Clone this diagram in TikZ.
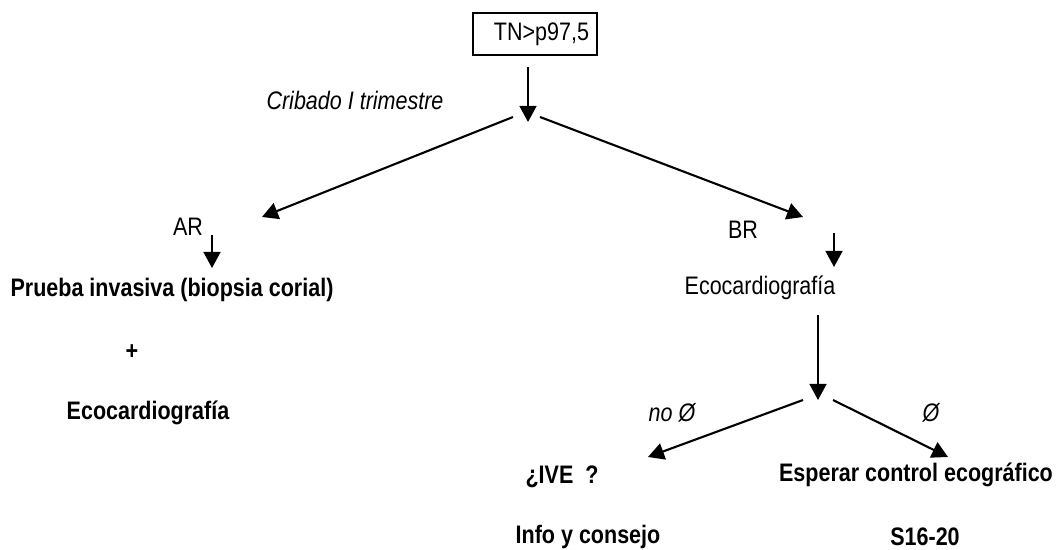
\documentclass[tikz,border=0pt]{standalone}
\usepackage{fontspec}
\setmainfont[FakeStretch=0.85]{Liberation Sans}
\usepackage{tikz}
\usetikzlibrary{arrows.meta}

\tikzset{
	texto/.style={inner sep=1pt,font=\fontsize{18pt}{21pt}\selectfont},
	negrita/.style={texto,font=\fontsize{18pt}{21pt}\selectfont\bfseries},
	cursiva/.style={texto,font=\fontsize{18pt}{21pt}\selectfont\itshape},
	flecha/.style={-{Triangle[length=0.4cm,width=0.42cm]},line width=1.5pt}
}

\begin{document}
\begin{tikzpicture}[x=0.025cm,y=-0.025cm]
			\useasboundingbox (0,0) rectangle (1057,550);
			
			\node[texto,draw,line width=1.5pt,minimum width=3.1cm,minimum height=1.05cm,text width=2.7cm,align=right,inner xsep=0.2cm] (tn) at (535,34) {TN>p97,5};
			\node[cursiva] (crib) at (355,100) {Cribado I trimestre};
			
			\node[texto] (ar) at (188,227) {AR};
			\node[negrita] (prueba) at (172,290) {Prueba invasiva (biopsia corial)};
			\node[negrita] (mas) at (132,352) {+};
			\node[negrita] (ecoa) at (148,413) {Ecocardiografía};
			
			\node[texto] (br) at (743,230) {BR};
			\node[texto] (ecob) at (760,288) {Ecocardiografía};
			\node[cursiva] (noo) at (672,413) {no Ø};
			\node[cursiva] (si) at (931,413) {Ø};
			\node[negrita] (ive) at (562,477) {¿IVE\ \ ?};
			\node[negrita] (info) at (588,537) {Info y consejo};
			\node[negrita] (esp) at (916,475) {Esperar control ecográfico};
			\node[negrita] (sem) at (925,537) {S16-20};
			
			\coordinate (t1) at (528,67);
			\coordinate (s1) at (528,122);
			\coordinate (i1) at (513,117);
			\coordinate (d1) at (540,117);
			\coordinate (pa) at (262,217);
			\coordinate (pb) at (803,217);
			\coordinate (a1) at (212,235);
			\coordinate (b1) at (834,233);
			\coordinate (t2) at (818,315);
			\coordinate (s2) at (818,400);
			\coordinate (i2) at (803,400);
			\coordinate (d2) at (833,400);
			\coordinate (pc) at (648,457);
			\coordinate (pd) at (948,457);
			
			\draw[flecha] (t1) -- (s1);
			\draw[flecha] (i1) -- (pa);
			\draw[flecha] (d1) -- (pb);
			\draw[flecha] (a1) -- ++(0,33);
			\draw[flecha] (b1) -- ++(0,34);
			\draw[flecha] (t2) -- (s2);
			\draw[flecha] (i2) -- (pc);
			\draw[flecha] (d2) -- (pd);
			
\end{tikzpicture}
\end{document}
